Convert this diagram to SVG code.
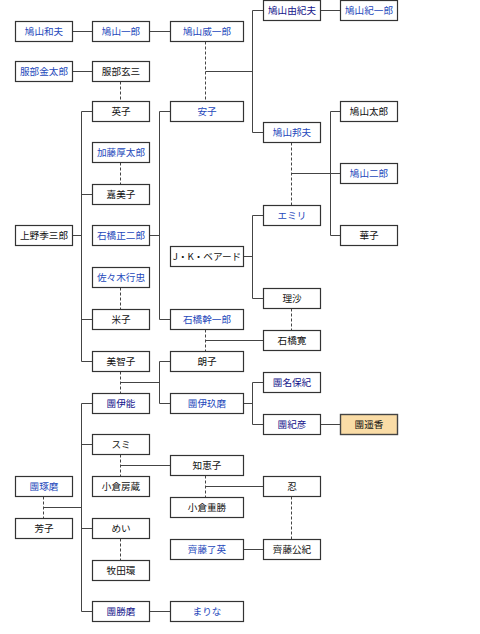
<svg xmlns="http://www.w3.org/2000/svg" width="480" height="634" viewBox="0 0 480 634">
<style>
.b{fill:#fff;stroke:#333;stroke-width:1.2}
.hl{fill:#fadca6;stroke:#444;stroke-width:1.4}
.l{fill:none;stroke:#444;stroke-width:1}
.d{stroke-dasharray:3,2}
text{font-family:"Noto Sans CJK JP","Noto Sans",sans-serif;font-size:9.6px;text-anchor:middle;fill:#111}
.u{fill:#2448bb}
.v{fill:#14148a}
</style>
<rect width="480" height="634" fill="#fff"/>
<g id="connectors" class="l">
<path d="M72.5 31.5H92.5M149.5 31.5H170.5M72.5 71.5H92.5"/>
<path class="d" d="M120.5 81.5V101.5"/>
<path class="d" d="M205.5 41.5V101.5"/>
<path d="M205.5 71.5H252.5M263.5 10.5H252.5V132.5H263.5"/>
<path d="M320.5 10.5H340.5"/>
<path class="d" d="M291.5 142.5V205.5"/>
<path d="M291.5 173.5H340.5M340.5 111.5H330.5V235.5H340.5"/>
<path d="M72.5 235.5H81.5M92.5 111.5H81.5V361.5H92.5M81.5 194.5H92.5M81.5 319.5H92.5"/>
<path class="d" d="M120.5 162.5V184.5M120.5 287.5V309.5"/>
<path d="M149.5 235.5H159.5M170.5 111.5H159.5V319.5H170.5"/>
<path d="M243.5 256.5H252.5M263.5 215.5H252.5V298.5H263.5"/>
<path class="d" d="M291.5 308.5V330.5M205.5 329.5V351.5"/>
<path d="M205.5 340.5H263.5"/>
<path class="d" d="M120.5 371.5V393.5"/>
<path d="M120.5 382.5H159.5M170.5 361.5H159.5V403.5H170.5"/>
<path d="M243.5 403.5H252.5M263.5 382.5H252.5V424.5H263.5"/>
<path d="M320.5 424.5H340.5"/>
<path class="d" d="M43.5 496.5V518.5"/>
<path d="M43.5 507.5H81.5M92.5 403.5H81.5V611.5H92.5M81.5 444.5H92.5M81.5 528.5H92.5"/>
<path class="d" d="M120.5 454.5V476.5"/>
<path d="M120.5 465.5H170.5"/>
<path class="d" d="M205.5 475.5V497.5"/>
<path d="M205.5 486.5H263.5"/>
<path class="d" d="M291.5 496.5V539.5M120.5 538.5V560.5"/>
<path d="M243.5 549.5H263.5M149.5 611.5H170.5"/>
</g>
<g id="n_kazuo"><rect class="b" x="15.5" y="21.5" width="57" height="20"/><text class="u" x="44" y="35.3">鳩山和夫</text></g>
<g id="n_ichiro"><rect class="b" x="92.5" y="21.5" width="57" height="20"/><text class="u" x="121" y="35.3">鳩山一郎</text></g>
<g id="n_iichiro"><rect class="b" x="170.5" y="21.5" width="73" height="20"/><text class="u" x="207" y="35.3">鳩山威一郎</text></g>
<g id="n_yukio"><rect class="b" x="263.5" y="0.5" width="57" height="20"/><text class="v" x="292" y="14.3">鳩山由紀夫</text></g>
<g id="n_kiichiro"><rect class="b" x="340.5" y="0.5" width="57" height="20"/><text class="u" x="369" y="14.3">鳩山紀一郎</text></g>
<g id="n_kintaro"><rect class="b" x="15.5" y="61.5" width="57" height="20"/><text class="u" x="44" y="75.3">服部金太郎</text></g>
<g id="n_genzo"><rect class="b" x="92.5" y="61.5" width="57" height="20"/><text x="121" y="75.3">服部玄三</text></g>
<g id="n_eiko"><rect class="b" x="92.5" y="101.5" width="57" height="20"/><text x="121" y="115.3">英子</text></g>
<g id="n_yasuko"><rect class="b" x="170.5" y="101.5" width="73" height="20"/><text class="u" x="207" y="115.3">安子</text></g>
<g id="n_taro"><rect class="b" x="340.5" y="101.5" width="57" height="20"/><text x="369" y="115.3">鳩山太郎</text></g>
<g id="n_kunio"><rect class="b" x="263.5" y="122.5" width="57" height="20"/><text class="u" x="292" y="136.3">鳩山邦夫</text></g>
<g id="n_kato"><rect class="b" x="92.5" y="142.5" width="57" height="20"/><text class="u" x="121" y="156.3">加藤厚太郎</text></g>
<g id="n_jiro"><rect class="b" x="340.5" y="163.5" width="57" height="20"/><text class="u" x="369" y="177.3">鳩山二郎</text></g>
<g id="n_kamiko"><rect class="b" x="92.5" y="184.5" width="57" height="20"/><text x="121" y="198.3">嘉美子</text></g>
<g id="n_emiri"><rect class="b" x="263.5" y="205.5" width="57" height="20"/><text class="u" x="292" y="219.3">エミリ</text></g>
<g id="n_shojiro"><rect class="b" x="92.5" y="225.5" width="57" height="20"/><text class="u" x="121" y="239.3">石橋正二郎</text></g>
<g id="n_ueno"><rect class="b" x="15.5" y="225.5" width="57" height="20"/><text x="44" y="239.3">上野季三郎</text></g>
<g id="n_hanako"><rect class="b" x="340.5" y="225.5" width="57" height="20"/><text x="369" y="239.3">華子</text></g>
<g id="n_baird"><rect class="b" x="170.5" y="246.5" width="73" height="20"/><text x="207" y="260.3">J・K・ベアード</text></g>
<g id="n_sasaki"><rect class="b" x="92.5" y="267.5" width="57" height="20"/><text class="u" x="121" y="281.3">佐々木行忠</text></g>
<g id="n_risa"><rect class="b" x="263.5" y="288.5" width="57" height="20"/><text x="292" y="302.3">理沙</text></g>
<g id="n_yoneko"><rect class="b" x="92.5" y="309.5" width="57" height="20"/><text x="121" y="323.3">米子</text></g>
<g id="n_kanichiro"><rect class="b" x="170.5" y="309.5" width="73" height="20"/><text class="u" x="207" y="323.3">石橋幹一郎</text></g>
<g id="n_hiroshi"><rect class="b" x="263.5" y="330.5" width="57" height="20"/><text x="292" y="344.3">石橋寛</text></g>
<g id="n_michiko"><rect class="b" x="92.5" y="351.5" width="57" height="20"/><text x="121" y="365.3">美智子</text></g>
<g id="n_akiko"><rect class="b" x="170.5" y="351.5" width="73" height="20"/><text x="207" y="365.3">朗子</text></g>
<g id="n_nahoki"><rect class="b" x="263.5" y="372.5" width="57" height="20"/><text class="v" x="292" y="386.3">團名保紀</text></g>
<g id="n_ino"><rect class="b" x="92.5" y="393.5" width="57" height="20"/><text class="v" x="121" y="407.3">團伊能</text></g>
<g id="n_ikuma"><rect class="b" x="170.5" y="393.5" width="73" height="20"/><text class="u" x="207" y="407.3">團伊玖磨</text></g>
<g id="n_norihiko"><rect class="b" x="263.5" y="414.5" width="57" height="20"/><text class="v" x="292" y="428.3">團紀彦</text></g>
<g id="n_haruka"><rect class="hl" x="340.5" y="414.5" width="57" height="20"/><text x="369" y="428.3">團遥香</text></g>
<g id="n_sumi"><rect class="b" x="92.5" y="434.5" width="57" height="20"/><text x="121" y="448.3">スミ</text></g>
<g id="n_chieko"><rect class="b" x="170.5" y="455.5" width="73" height="20"/><text x="207" y="469.3">知恵子</text></g>
<g id="n_takuma"><rect class="b" x="15.5" y="476.5" width="57" height="20"/><text class="u" x="44" y="490.3">團琢磨</text></g>
<g id="n_fusazo"><rect class="b" x="92.5" y="476.5" width="57" height="20"/><text x="121" y="490.3">小倉房蔵</text></g>
<g id="n_shinobu"><rect class="b" x="263.5" y="476.5" width="57" height="20"/><text x="292" y="490.3">忍</text></g>
<g id="n_shigekatsu"><rect class="b" x="170.5" y="497.5" width="73" height="20"/><text x="207" y="511.3">小倉重勝</text></g>
<g id="n_yoshiko"><rect class="b" x="15.5" y="518.5" width="57" height="20"/><text x="44" y="532.3">芳子</text></g>
<g id="n_mei"><rect class="b" x="92.5" y="518.5" width="57" height="20"/><text x="121" y="532.3">めい</text></g>
<g id="n_ryoei"><rect class="b" x="170.5" y="539.5" width="73" height="20"/><text class="u" x="207" y="553.3">齊藤了英</text></g>
<g id="n_kiminori"><rect class="b" x="263.5" y="539.5" width="57" height="20"/><text x="292" y="553.3">齊藤公紀</text></g>
<g id="n_makita"><rect class="b" x="92.5" y="560.5" width="57" height="20"/><text x="121" y="574.3">牧田環</text></g>
<g id="n_katsuma"><rect class="b" x="92.5" y="601.5" width="57" height="20"/><text class="v" x="121" y="615.3">團勝磨</text></g>
<g id="n_marina"><rect class="b" x="170.5" y="601.5" width="73" height="20"/><text class="u" x="207" y="615.3">まりな</text></g>
</svg>
